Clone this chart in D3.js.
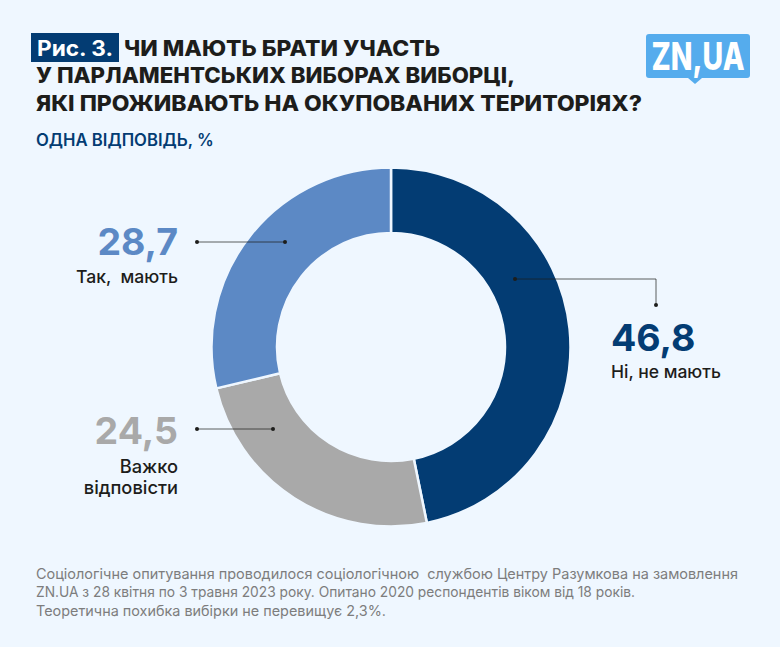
<!DOCTYPE html>
<html lang="uk">
<head>
<meta charset="utf-8">
<script src="https://d3js.org/d3.v7.min.js"></script>
<style>
html, body { margin: 0; padding: 0; background: #eff7ff; }
svg { display: block; }
text { font-family: Inter, "Noto Sans", sans-serif; }
</style>
</head>
<body>
<svg width="780" height="647"></svg>
<script>
var categories = ["Ні, не мають", "Важко відповісти", "Так,  мають"];
var values = [46.8, 24.5, 28.7];
var valueLabels = ["46,8", "24,5", "28,7"];
var colors = ["#033c73", "#a9a9a9", "#5c89c5"];
var titleLines = ["ЧИ МАЮТЬ БРАТИ УЧАСТЬ", "У ПАРЛАМЕНТСЬКИХ ВИБОРАХ ВИБОРЦІ,", "ЯКІ ПРОЖИВАЮТЬ НА ОКУПОВАНИХ ТЕРИТОРІЯХ?"];
var footLines = [
	"Соціологічне опитування проводилося соціологічною  службою Центру Разумкова на замовлення",
	"ZN.UA з 28 квітня по 3 травня 2023 року. Опитано 2020 респондентів віком від 18 років.",
	"Теоретична похибка вибірки не перевищує 2,3%."
];

var svg = d3.select("svg");
var bg = "#eff7ff", ink = "#1d1d1b", navy = "#033c73";

// heading
svg.append("rect").attr("x", 31).attr("y", 33).attr("width", 88).attr("height", 29).attr("fill", navy);
svg.append("text").attr("x", 37).attr("y", 55.5).attr("fill", "#fff")
	.attr("font-size", 21).attr("font-weight", 700)
	.attr("textLength", 76).attr("lengthAdjust", "spacingAndGlyphs").text("Рис. 3.");

svg.selectAll(".title").data(titleLines).enter().append("text")
	.attr("class", "title")
	.attr("x", function (d, i) { return i == 0 ? 124 : 36; })
	.attr("y", function (d, i) { return 55.5 + i * 27.5; })
	.attr("fill", ink).attr("font-size", 21).attr("font-weight", 800)
	.attr("textLength", function (d, i) { return [316, 479, 606][i]; })
	.attr("lengthAdjust", "spacingAndGlyphs")
	.text(function (d) { return d; });

svg.append("text").attr("x", 36).attr("y", 146).attr("fill", navy)
	.attr("font-size", 16.7).attr("font-weight", 600).text("ОДНА ВІДПОВІДЬ, %");

// logo
var logo = svg.append("g");
logo.append("rect").attr("x", 646).attr("y", 34).attr("width", 104).attr("height", 44).attr("rx", 3).attr("fill", "#55aced");
logo.append("path").attr("d", "M688,78 L702,78 L695,84 Z").attr("fill", "#55aced");
logo.append("text").attr("x", 698).attr("y", 70).attr("text-anchor", "middle").attr("fill", "#fff")
	.attr("font-family", "'Open Sans'").attr("font-size", 38).attr("font-weight", 800)
	.attr("textLength", 93).attr("lengthAdjust", "spacingAndGlyphs").text("ZN,UA");

// donut
var cx = 391, cy = 347;
var pie = d3.pie().sort(null)(values);
var arc = d3.arc().innerRadius(114).outerRadius(179.5);

svg.append("g").attr("transform", "translate(" + cx + "," + cy + ")")
	.selectAll("path").data(pie).enter().append("path")
	.attr("d", arc)
	.attr("fill", function (d, i) { return colors[i]; })
	.attr("stroke", bg).attr("stroke-width", 2.5);

// leaders
var leaders = [
	[[515, 279], [656, 279], [656, 305]],
	[[197, 429], [273, 429]],
	[[197, 242], [285, 242]]
];
var line = d3.line();
leaders.forEach(function (pts) {
	svg.append("path").attr("d", line(pts)).attr("fill", "none")
		.attr("stroke", "#1d1d1b").attr("stroke-opacity", 0.7).attr("stroke-width", 1);
	[pts[0], pts[pts.length - 1]].forEach(function (p) {
		svg.append("circle").attr("cx", p[0]).attr("cy", p[1]).attr("r", 2).attr("fill", "#1d1d1b");
	});
});

// value labels
var labelPos = [
	{ x: 611, y: 351, anchor: "start" },
	{ x: 178, y: 444, anchor: "end" },
	{ x: 178, y: 255, anchor: "end" }
];
svg.selectAll(".val").data(valueLabels).enter().append("text")
	.attr("class", "val")
	.attr("x", function (d, i) { return labelPos[i].x; })
	.attr("y", function (d, i) { return labelPos[i].y; })
	.attr("text-anchor", function (d, i) { return labelPos[i].anchor; })
	.attr("fill", function (d, i) { return colors[i]; })
	.attr("font-size", 37.5).attr("font-weight", 700)
	.text(function (d) { return d; });

function catLabel(t, x, y, anchor, size) {
	svg.append("text").attr("x", x).attr("y", y).attr("text-anchor", anchor)
		.attr("fill", ink).attr("font-size", size).attr("font-weight", 500)
		.style("white-space", "pre").text(t);
}
catLabel(categories[0], 611, 378, "start", 17.5);
catLabel("Важко", 178, 473, "end", 18.3);
catLabel("відповісти", 178, 494, "end", 18.3);
catLabel(categories[2], 178, 283, "end", 17.6);

// footnote
svg.selectAll(".foot").data(footLines).enter().append("text")
	.attr("class", "foot")
	.attr("x", 36)
	.attr("y", function (d, i) { return 578.5 + i * 18.5; })
	.attr("fill", "#7d7d7d").attr("font-size", 14.3).attr("font-weight", 400)
	.style("white-space", "pre")
	.attr("textLength", function (d, i) { return [702, 599, 350][i]; })
	.attr("lengthAdjust", "spacingAndGlyphs")
	.text(function (d) { return d; });
</script>
</body>
</html>
